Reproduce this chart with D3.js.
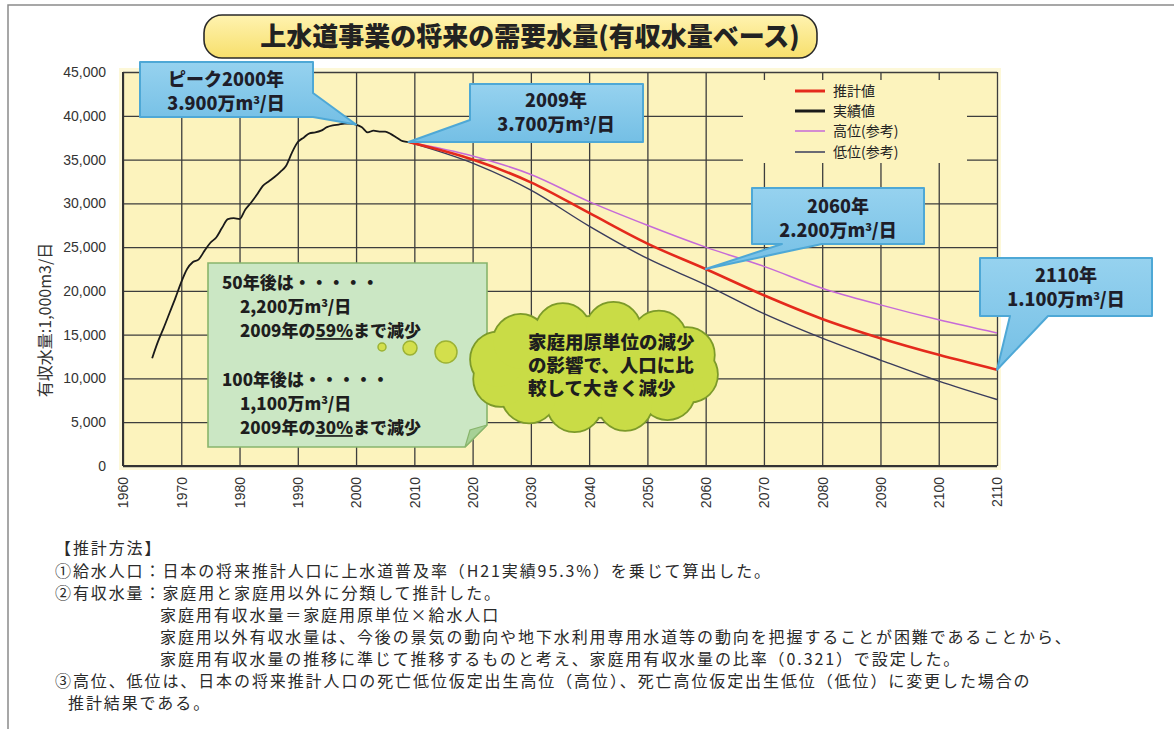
<!DOCTYPE html>
<html><head><meta charset="utf-8">
<script src="https://cdn.jsdelivr.net/npm/d3@7"></script>
<style>body{margin:0;background:#fff}svg{display:block}</style>
</head><body><svg id="c" width="1174" height="729"></svg>
<script>
// ---- data ----
const actualYears = [1965,1966,1967,1968,1969,1970,1971,1972,1973,1974,1975,1976,1977,1978,1979,1980,1981,1982,1983,1984,1985,1986,1987,1988,1989,1990,1991,1992,1993,1994,1995,1996,1997,1998,1999,2000,2001,2002,2003,2004,2005,2006,2007,2008,2009];
const actualValues = [12300,14200,15800,17500,19200,21000,22500,23300,23600,24600,25500,26100,27200,28200,28300,28200,29300,30100,31000,32000,32500,33000,33600,34300,35800,37000,37500,38000,38100,38300,38700,38900,39000,39100,39100,39000,38700,38100,38300,38200,38200,37900,37500,37100,37000];
const projYears = [2009,2020,2030,2040,2050,2060,2070,2080,2090,2100,2110];
const estimateValues = [37000,35000,32400,28900,25400,22500,19500,16800,14600,12700,11000];
const highValues = [37000,35400,33300,30200,27500,25000,22800,20300,18400,16700,15200];
const lowValues = [37000,34600,31500,27400,23700,20700,17400,14600,12100,9700,7600];
const xTicks = [1960,1970,1980,1990,2000,2010,2020,2030,2040,2050,2060,2070,2080,2090,2100,2110];
const yTicks = [0,5000,10000,15000,20000,25000,30000,35000,40000,45000];
const seriesNames = ["推計値","実績値","高位(参考)","低位(参考)"];
const seriesColors = ["#e42a1c","#1a1a1a","#c66ad8","#3a3c5c"];
const titleText = "上水道事業の将来の需要水量(有収水量ベース)";
const yTitle = "有収水量:1,000m3/日";
const cloudLines = ["家庭用原単位の減少","の影響で、人口に比","較して大きく減少"];
const noteLines = ["【推計方法】",
 "①給水人口：日本の将来推計人口に上水道普及率（H21実績95.3%）を乗じて算出した。",
 "②有収水量：家庭用と家庭用以外に分類して推計した。",
 "家庭用有収水量＝家庭用原単位×給水人口",
 "家庭用以外有収水量は、今後の景気の動向や地下水利用専用水道等の動向を把握することが困難であることから、",
 "家庭用有収水量の推移に準じて推移するものと考え、家庭用有収水量の比率（0.321）で設定した。",
 "③高位、低位は、日本の将来推計人口の死亡低位仮定出生高位（高位）、死亡高位仮定出生低位（低位）に変更した場合の",
 "推計結果である。"];

// ---- setup ----
const svg = d3.select("#c");
const L=123,R=997,T=72,B=466;
const x = d3.scaleLinear().domain([1960,2110]).range([L,R]);
const y = d3.scaleLinear().domain([0,45000]).range([B,T]);
const JP = "'Noto Sans CJK JP','Noto Sans',sans-serif";
const LAT = "'Liberation Sans',Arial,'Noto Sans CJK JP',sans-serif";
const defs = svg.append("defs");
const g1 = defs.append("linearGradient").attr("id","callG").attr("x1",0).attr("y1",0).attr("x2",0).attr("y2",1);
g1.append("stop").attr("offset","0%").attr("stop-color","#96d2ef");
g1.append("stop").attr("offset","100%").attr("stop-color","#74bfe5");
const g2 = defs.append("linearGradient").attr("id","titleG").attr("x1",0).attr("y1",0).attr("x2",0).attr("y2",1);
g2.append("stop").attr("offset","0%").attr("stop-color","#fff3b0");
g2.append("stop").attr("offset","100%").attr("stop-color","#f7df6c");

// outer frame
svg.append("rect").attr("x",8).attr("y",5).attr("width",1180).attr("height",740)
  .attr("fill","none").attr("stroke","#8a8a8a").attr("stroke-width",1.5);

// title
svg.append("rect").attr("x",204).attr("y",15).attr("width",613).attr("height",43).attr("rx",18)
  .attr("fill","url(#titleG)").attr("stroke","#2a2a2a").attr("stroke-width",1.6);
svg.append("text").attr("x",530).attr("y",37).attr("dy","0.36em").attr("text-anchor","middle")
  .attr("font-family",JP).attr("font-weight",900).attr("font-size",26).attr("fill","#222").text(titleText);

// plot bg
svg.append("rect").attr("x",L-4).attr("y",T-4).attr("width",R-L+8).attr("height",B-T+8).attr("fill","#fdf8d8");
svg.append("rect").attr("x",L).attr("y",T).attr("width",R-L).attr("height",B-T).attr("fill","#fcf3bd");

// grid
const grid = svg.append("g");
grid.append("g").attr("transform",`translate(0,${B})`)
  .call(d3.axisBottom(x).tickValues(xTicks).tickSize(-(B-T)).tickFormat(""))
  .call(s=>{s.select(".domain").remove(); s.selectAll("line").attr("stroke","#3d3d3d").attr("stroke-width",1.3);});
grid.append("g").attr("transform",`translate(${L},0)`)
  .call(d3.axisLeft(y).tickValues(yTicks).tickSize(-(R-L)).tickFormat(""))
  .call(s=>{s.select(".domain").remove(); s.selectAll("line").attr("stroke","#3d3d3d").attr("stroke-width",1.3);});

// legend background (covers grid)
svg.append("rect").attr("x",743).attr("y",80).attr("width",224).attr("height",83).attr("fill","#fcf3bd");

// axes labels
svg.append("g").attr("transform",`translate(${L},0)`)
  .call(d3.axisLeft(y).tickValues(yTicks).tickSize(0).tickPadding(17).tickFormat(d3.format(",")))
  .call(s=>{s.select(".domain").remove(); s.selectAll("text").attr("font-family",LAT).attr("font-size",14).attr("fill","#333");});
const xa = svg.append("g").attr("transform",`translate(0,${B})`)
  .call(d3.axisBottom(x).tickValues(xTicks).tickSize(0).tickFormat(d3.format("d")));
xa.select(".domain").remove();
xa.selectAll("text").attr("font-family",LAT).attr("font-size",14).attr("fill","#333")
  .attr("text-anchor","end").attr("transform","translate(0,11) rotate(-90)").attr("x",0).attr("y",0).attr("dy","0.35em");

// axis frame lines
svg.append("line").attr("x1",L).attr("x2",L).attr("y1",T).attr("y2",B).attr("stroke","#333").attr("stroke-width",2);
svg.append("line").attr("x1",L).attr("x2",R).attr("y1",B).attr("y2",B).attr("stroke","#333").attr("stroke-width",2);

// y title
svg.append("text").attr("transform","translate(45,320) rotate(-90)").attr("text-anchor","middle").attr("dy","0.35em")
  .attr("font-family",JP).attr("font-size",16).attr("fill","#333").text(yTitle);

// legend
const legY = [91,111,131,152];
const legW = [3,3,1.5,1.5];
[0,1,2,3].forEach((k,i)=>{
  svg.append("line").attr("x1",795).attr("x2",825).attr("y1",legY[i]).attr("y2",legY[i])
    .attr("stroke",seriesColors[k]).attr("stroke-width",legW[i]);
  svg.append("text").attr("x",833).attr("y",legY[i]).attr("dy","0.35em").attr("font-family",JP)
    .attr("font-size",14).attr("fill","#222").text(seriesNames[k]);
});

// lines
const zip = (a,b)=>a.map((v,i)=>[v,b[i]]);
const smooth = d3.line().x(d=>x(d[0])).y(d=>y(d[1])).curve(d3.curveMonotoneX);
svg.append("path").attr("d",smooth(zip(projYears,lowValues))).attr("fill","none").attr("stroke",seriesColors[3]).attr("stroke-width",1.4);
svg.append("path").attr("d",smooth(zip(projYears,highValues))).attr("fill","none").attr("stroke",seriesColors[2]).attr("stroke-width",1.5);
svg.append("path").attr("d",smooth(zip(projYears,estimateValues))).attr("fill","none").attr("stroke",seriesColors[0]).attr("stroke-width",2.6);
svg.append("path").attr("d",smooth(zip(actualYears,actualValues))).attr("fill","none").attr("stroke",seriesColors[1]).attr("stroke-width",1.8);

// callouts
function callout(poly, lines, cx, cys){
  svg.append("path").attr("d","M"+poly.map(p=>p.join(",")).join("L")+"Z")
    .attr("fill","url(#callG)").attr("stroke","#4ea8d6").attr("stroke-width",2).attr("stroke-linejoin","round");
  lines.forEach((t,i)=>{
    svg.append("text").attr("x",cx).attr("y",cys[i]).attr("dy","0.36em").attr("text-anchor","middle")
      .attr("font-family",JP).attr("font-weight",900).attr("font-size",18).attr("fill","#1e1e2a").html(t);
  });
}
const sup = '<tspan font-size="11" dy="-6">3</tspan><tspan dy="6">/日</tspan>';
const tPeak = [x(2000), y(actualValues[actualYears.indexOf(2000)])];
const t2009 = [x(2009), y(actualValues[actualYears.indexOf(2009)])];
const t2060 = [x(2060), y(estimateValues[projYears.indexOf(2060)])];
const t2110 = [x(2110), y(estimateValues[projYears.indexOf(2110)])];
callout([[140,62],[313,62],[313,93],tPeak,[313,117],[140,117]], ["ピーク2000年","3.900万m"+sup], 226, [80,104]);
callout([[470,84],[643,84],[643,142],[478,142],t2009,[470,120]], ["2009年","3.700万m"+sup], 556, [101,125]);
callout([[752,188],[924,188],[924,244],[822,244],t2060,[782,244],[752,244]], ["2060年","2.200万m"+sup], 838, [207,231]);
callout([[980,258],[1152,258],[1152,316],[1048,316],t2110,[1010,316],[980,316]], ["2110年","1.100万m"+sup], 1066, [276,300]);

// green note
svg.append("path").attr("d","M208,263H487V425L465,447H208Z").attr("fill","#cbe7c4").attr("stroke","#88b56c").attr("stroke-width",1.6);
svg.append("path").attr("d","M487,425L465,447L470,430Z").attr("fill","#a7d196").attr("stroke","#88b56c").attr("stroke-width",1.2);
const noteT = [
 {x:222,y:283,t:"50年後は・・・・・"},
 {x:240,y:307,t:"2,200万m"+sup},
 {x:240,y:331,t:"2009年の<tspan style=\"text-decoration:underline\">59%</tspan>まで減少"},
 {x:222,y:380,t:"100年後は・・・・・"},
 {x:240,y:404,t:"1,100万m"+sup},
 {x:240,y:428,t:"2009年の<tspan style=\"text-decoration:underline\">30%</tspan>まで減少"}];
noteT.forEach(d=>{
  svg.append("text").attr("x",d.x).attr("y",d.y).attr("dy","0.36em").attr("font-family",JP)
    .attr("font-weight",900).attr("font-size",17).attr("fill","#1e1e1e").html(d.t);
});
// bubbles
[[382,347,4],[410,348,7],[446,352,11]].forEach(c=>{
  svg.append("circle").attr("cx",c[0]).attr("cy",c[1]).attr("r",c[2]).attr("fill","#d3df4c").attr("stroke","#9cb235").attr("stroke-width",1.5);
});

// cloud
const cc=[594,367];
const cloudShapes = [];
for(let k=0;k<12;k++){const a=k*Math.PI/6+0.2; cloudShapes.push([cc[0]+98*Math.cos(a), cc[1]+38*Math.sin(a), 27]);}
const cloud = svg.append("g");
cloud.append("ellipse").attr("cx",cc[0]).attr("cy",cc[1]).attr("rx",108).attr("ry",50).attr("fill","#7c9a2a").attr("stroke","#7c9a2a").attr("stroke-width",3.5);
cloudShapes.forEach(c=>cloud.append("circle").attr("cx",c[0]).attr("cy",c[1]).attr("r",c[2]).attr("fill","#7c9a2a").attr("stroke","#7c9a2a").attr("stroke-width",3.5));
cloud.append("ellipse").attr("cx",cc[0]).attr("cy",cc[1]).attr("rx",108).attr("ry",50).attr("fill","#c9dc46");
cloudShapes.forEach(c=>cloud.append("circle").attr("cx",c[0]).attr("cy",c[1]).attr("r",c[2]).attr("fill","#c9dc46"));
const ct = svg.append("text").attr("x",528).attr("y",342).attr("font-family",JP)
  .attr("font-weight",900).attr("font-size",18.5).attr("fill","#1e1e1e");
cloudLines.forEach((t,i)=>{
  ct.append("tspan").attr("x",528).attr("y",342+i*23).attr("dy","0.36em").text(t);
});

// footnote
const noteX = [55,55,55,160,160,160,55,68];
const noteY = [548,571,593,615,637,659,681,703];
noteLines.forEach((t,i)=>{
  svg.append("text").attr("x",noteX[i]).attr("y",noteY[i]).attr("dy","0.36em").attr("font-family",JP)
    .attr("font-size",16).attr("letter-spacing","1.9px").attr("fill","#2a2a2a").text(t);
});
</script></body></html>
